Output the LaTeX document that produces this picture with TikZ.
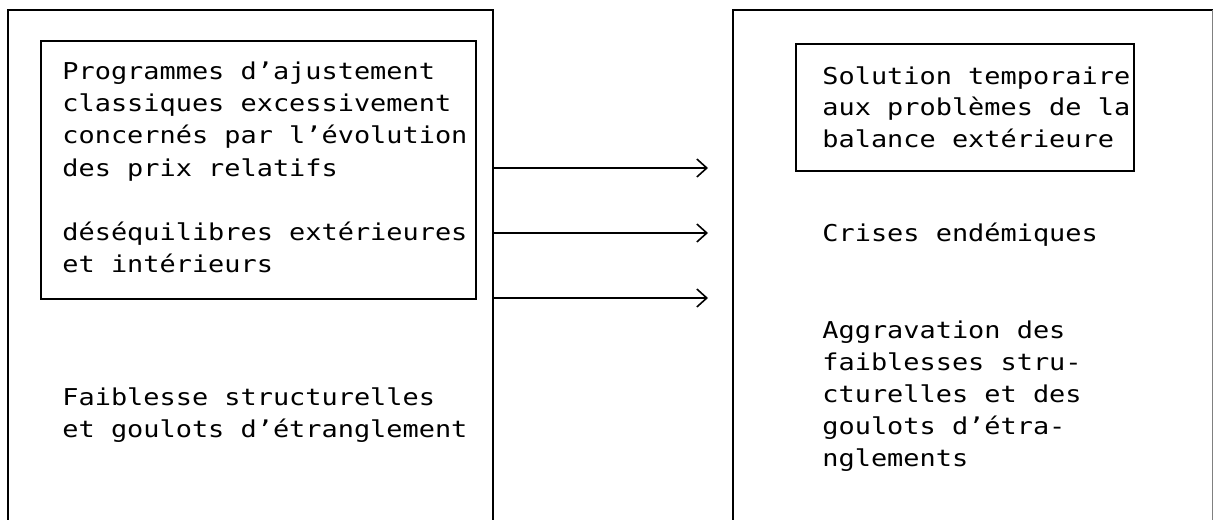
\documentclass[tikz,border=0pt]{standalone}
\usepackage{fontspec}
\newfontfamily\dotfont[FakeStretch=1.16]{DejaVu Sans Mono}
\usetikzlibrary{arrows.meta}
\begin{document}
\begin{tikzpicture}[x=0.5pt,y=-0.5pt,
  frame/.style={line width=1pt},
  box/.style={draw, line width=1pt, inner sep=0pt, anchor=north west},
  outer/.style={inner sep=0pt, anchor=north west, minimum height=262pt},
  txt/.style={font=\dotfont\fontsize{11.6pt}{16pt}\selectfont, align=left, anchor=base west, inner sep=0pt},
  arr/.style={line width=0.8pt, -{Straight Barb[length=5pt,width=9pt,line width=0.8pt]}}]
\useasboundingbox[fill=white] (0,0) rectangle (1214,519);
% outer frames (open at the bottom)
\node[outer, minimum width=242pt] (outL) at (8,10) {};
\node[outer, minimum width=239.5pt] (outR) at (733,10) {};
\draw[frame] (outL.south west) -- (outL.north west) -- (outL.north east) -- (outL.south east);
\draw[frame] (outR.south west) -- (outR.north west) -- (outR.north east);
\draw[gray, line width=0.5pt] (outR.north east) -- (outR.south east);
% inner boxes
\node[box, minimum width=217.5pt, minimum height=129pt] (inL) at (40,40) {};
\node[box, minimum width=169pt, minimum height=63.5pt] (inR) at (795,43) {};
% texts (anchor at the baseline of the last line)
\node[txt] (tA) at (62,176) {Programmes d’ajustement\\classiques excessivement\\concernés par l’évolution\\des prix relatifs};
\node[txt] (tB) at (62,272) {déséquilibres extérieures\\et intérieurs};
\node[txt] (tC) at (62,437) {Faiblesse structurelles\\et goulots d’étranglement};
\node[txt] (tD) at (822,148) {Solution temporaire\\aux problèmes de la\\balance extérieure};
\node[txt] (tE) at (822,241) {Crises endémiques};
\node[txt] (tF) at (822,466) {Aggravation des\\faiblesses stru-\\cturelles et des\\goulots d’étra-\\nglements};
% arrows
\coordinate (s1) at (492,168); \coordinate (e1) at (708,168);
\coordinate (s2) at (492,233); \coordinate (e2) at (708,233);
\coordinate (s3) at (492,298); \coordinate (e3) at (708,298);
\draw[arr] (s1) -- (e1);
\draw[arr] (s2) -- (e2);
\draw[arr] (s3) -- (e3);
\end{tikzpicture}
\end{document}
